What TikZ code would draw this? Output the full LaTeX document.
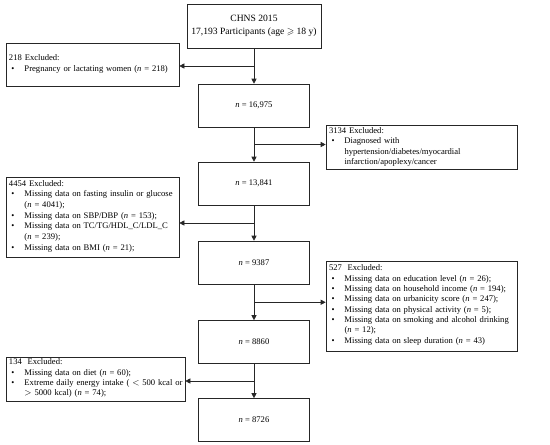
\documentclass[tikz,border=0pt]{standalone}
\usepackage{fontspec}
\setmainfont{Liberation Serif}
\usepackage{amssymb}
\usetikzlibrary{arrows.meta,calc}
\newcommand{\fsz}{\fontsize{8.6}{10.3}\selectfont}
\newcommand{\bitem}[1]{\par\noindent\makebox[15.5pt][l]{\hspace{2.5pt}\textbullet}\begin{tabular}[t]{@{}l@{}}#1\end{tabular}}
\newcommand{\nn}{\textit{n}}
\begin{document}
\begin{tikzpicture}[x=1pt,y=-1pt,
  mainbox/.style={draw=black!85, line width=0.6pt, minimum width=111pt, minimum height=43pt, inner sep=0pt, align=center, font=\fsz},
  exclbox/.style={draw=black!85, line width=0.6pt, align=left, inner xsep=3pt, inner ysep=2pt, font=\fsz},
  arr/.style={draw=black!85, line width=0.6pt, -{Triangle[length=5pt,width=5pt]}}]
\useasboundingbox (0,0) rectangle (550,445);
\node[mainbox, minimum width=134pt, minimum height=44pt, font=\fontsize{9.6}{12.8}\selectfont] (top) at (254,26) {CHNS 2015\\17,193 Participants (age $\geqslant$ 18 y)};
\node[mainbox] (b1) at (254,105.5) {\nn~=~16,975};
\node[mainbox] (b2) at (254,183.5) {\nn~=~13,841};
\node[mainbox] (b3) at (254,262.5) {\nn~=~9387};
\node[mainbox] (b4) at (254,342) {\nn~=~8860};
\node[mainbox] (b5) at (254,420) {\nn~=~8726};

\node[exclbox, text width=167pt, minimum height=43pt] (e1) at (92.5,64.5) {218 Excluded:\bitem{Pregnancy or lactating women (\nn~=~218)}};
\node[exclbox, text width=185pt, minimum height=43pt] (e2) at (421.5,147.5) {3134 Excluded:\bitem{Diagnosed with\\ hypertension/diabetes/myocardial\\ infarction/apoplexy/cancer}};
\node[exclbox, text width=167pt, minimum height=80pt] (e3) at (92.5,217) {4454 Excluded:\bitem{Missing data on fasting insulin or glucose\\ (\nn~=~4041);}\bitem{Missing data on SBP/DBP (\nn~=~153);}\bitem{Missing data on TC/TG/HDL\_C/LDL\_C\\ (\nn~=~239);}\bitem{Missing data on BMI (\nn~=~21);}};
\node[exclbox, text width=185pt, minimum height=90pt] (e4) at (421.5,306) {527~~Excluded:\bitem{Missing data on education level (\nn~=~26);}\bitem{Missing data on household income (\nn~=~194);}\bitem{Missing data on urbanicity score (\nn~=~247);}\bitem{Missing data on physical activity (\nn~=~5);}\bitem{Missing data on smoking and alcohol drinking\\ (\nn~=~12);}\bitem{Missing data on sleep duration (\nn~=~43)}};
\node[exclbox, text width=173pt, minimum height=42pt] (e5) at (95.5,379) {134~~Excluded:\bitem{Missing data on diet (\nn~=~60);}\bitem{Extreme daily energy intake ( $<$ 500 kcal or\\ $>$ 5000 kcal) (\nn~=~74);}};

\coordinate (m1) at ($(top.south)!0.5!(b1.north)$);
\coordinate (m2) at ($(b1.south)!0.5!(b2.north)$);
\coordinate (m3) at ($(b2.south)!0.5!(b3.north)$);
\coordinate (m4) at ($(b3.south)!0.5!(b4.north)$);
\coordinate (m5) at ($(b4.south)!0.5!(b5.north)$);

\draw[arr] (top.south) -- (b1.north);
\draw[arr] (b1.south) -- (b2.north);
\draw[arr] (b2.south) -- (b3.north);
\draw[arr] (b3.south) -- (b4.north);
\draw[arr] (b4.south) -- (b5.north);
\draw[arr] (m1) -- (e1.east |- m1);
\draw[arr] (m2) -- (e2.west |- m2);
\draw[arr] (m3) -- (e3.east |- m3);
\draw[arr] (m4) -- (e4.west |- m4);
\draw[arr] (m5) -- (e5.east |- m5);
\end{tikzpicture}
\end{document}
